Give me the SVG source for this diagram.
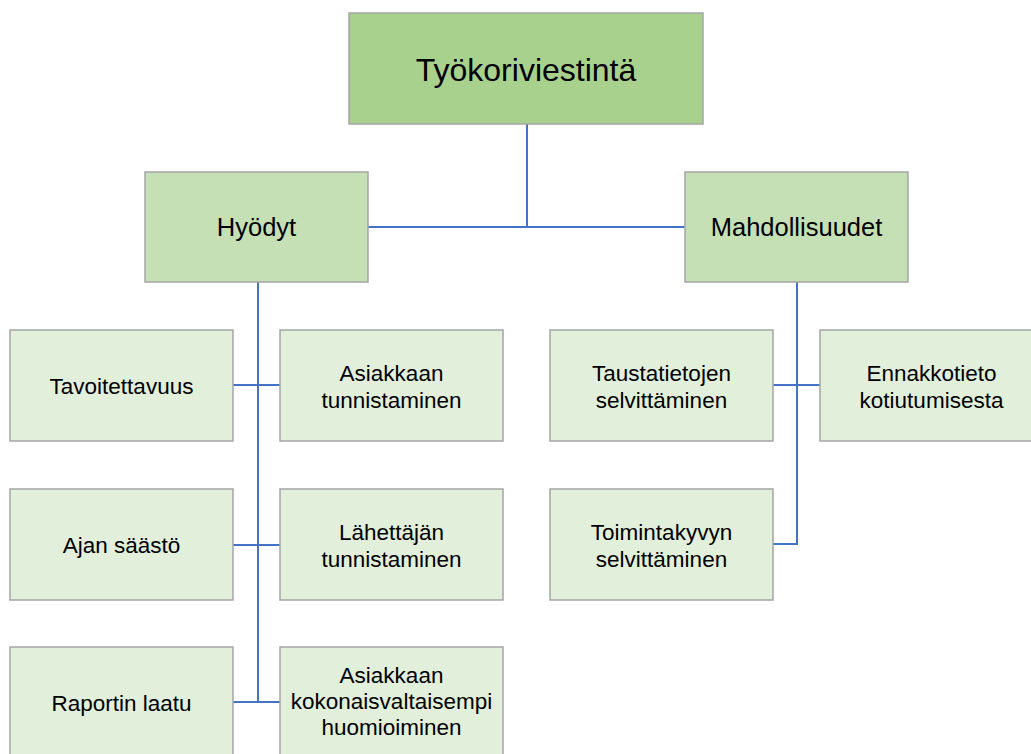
<svg xmlns="http://www.w3.org/2000/svg" width="1031" height="754" viewBox="0 0 1031 754">
  <style>
    .box { stroke: #a5a5a5; stroke-width: 1.5; }
    .root { fill: #a9d18e; }
    .mid { fill: #c5e0b4; }
    .leaf { fill: #e2efda; }
    text { font-family: "Liberation Sans", Arial, sans-serif; fill: #000; text-anchor: middle; }
    .t1 { font-size: 32px; }
    .t2 { font-size: 25.5px; }
    .t3 { font-size: 22.5px; }
    .conn { stroke: #4472c4; stroke-width: 2; fill: none; }
  </style>
  <rect width="1031" height="754" fill="#ffffff"/>

  <!-- connectors -->
  <g id="connectors">
    <path class="conn" d="M527 124 V227 M368 227 H685"/>
    <path class="conn" d="M258 282 V702 M233 385 H280 M233 545 H280 M233 702 H280"/>
    <path class="conn" d="M797 282 V544 H773 M773 385 H820"/>
  </g>

  <g id="n-root">
    <rect class="box root" x="349" y="13" width="354" height="111"/>
    <text class="t1" x="526" y="81">Työkoriviestintä</text>
  </g>

  <g id="n-hyodyt">
    <rect class="box mid" x="145" y="172" width="223" height="110"/>
    <text class="t2" x="256.5" y="236">Hyödyt</text>
  </g>
  <g id="n-mahdollisuudet">
    <rect class="box mid" x="685" y="172" width="223" height="110"/>
    <text class="t2" x="796.5" y="236">Mahdollisuudet</text>
  </g>

  <g id="n-tavoitettavuus">
    <rect class="box leaf" x="10" y="330" width="223" height="111"/>
    <text class="t3" x="121.5" y="394">Tavoitettavuus</text>
  </g>
  <g id="n-asiakkaan-tunnistaminen">
    <rect class="box leaf" x="280" y="330" width="223" height="111"/>
    <text class="t3" x="391.5" y="381">Asiakkaan</text>
    <text class="t3" x="391.5" y="408">tunnistaminen</text>
  </g>
  <g id="n-ajan-saasto">
    <rect class="box leaf" x="10" y="489" width="223" height="111"/>
    <text class="t3" x="121.5" y="553">Ajan säästö</text>
  </g>
  <g id="n-lahettajan-tunnistaminen">
    <rect class="box leaf" x="280" y="489" width="223" height="111"/>
    <text class="t3" x="391.5" y="540">Lähettäjän</text>
    <text class="t3" x="391.5" y="567">tunnistaminen</text>
  </g>
  <g id="n-raportin-laatu">
    <rect class="box leaf" x="10" y="647" width="223" height="111"/>
    <text class="t3" x="121.5" y="711">Raportin laatu</text>
  </g>
  <g id="n-kokonaisvaltaisempi">
    <rect class="box leaf" x="280" y="647" width="223" height="111"/>
    <text class="t3" x="391.5" y="683">Asiakkaan</text>
    <text class="t3" x="391.5" y="709">kokonaisvaltaisempi</text>
    <text class="t3" x="391.5" y="735">huomioiminen</text>
  </g>

  <g id="n-taustatietojen">
    <rect class="box leaf" x="550" y="330" width="223" height="111"/>
    <text class="t3" x="661.5" y="381">Taustatietojen</text>
    <text class="t3" x="661.5" y="408">selvittäminen</text>
  </g>
  <g id="n-ennakkotieto">
    <rect class="box leaf" x="820" y="330" width="223" height="111"/>
    <text class="t3" x="931.5" y="381">Ennakkotieto</text>
    <text class="t3" x="931.5" y="408">kotiutumisesta</text>
  </g>
  <g id="n-toimintakyvyn">
    <rect class="box leaf" x="550" y="489" width="223" height="111"/>
    <text class="t3" x="661.5" y="540">Toimintakyvyn</text>
    <text class="t3" x="661.5" y="567">selvittäminen</text>
  </g>
</svg>
